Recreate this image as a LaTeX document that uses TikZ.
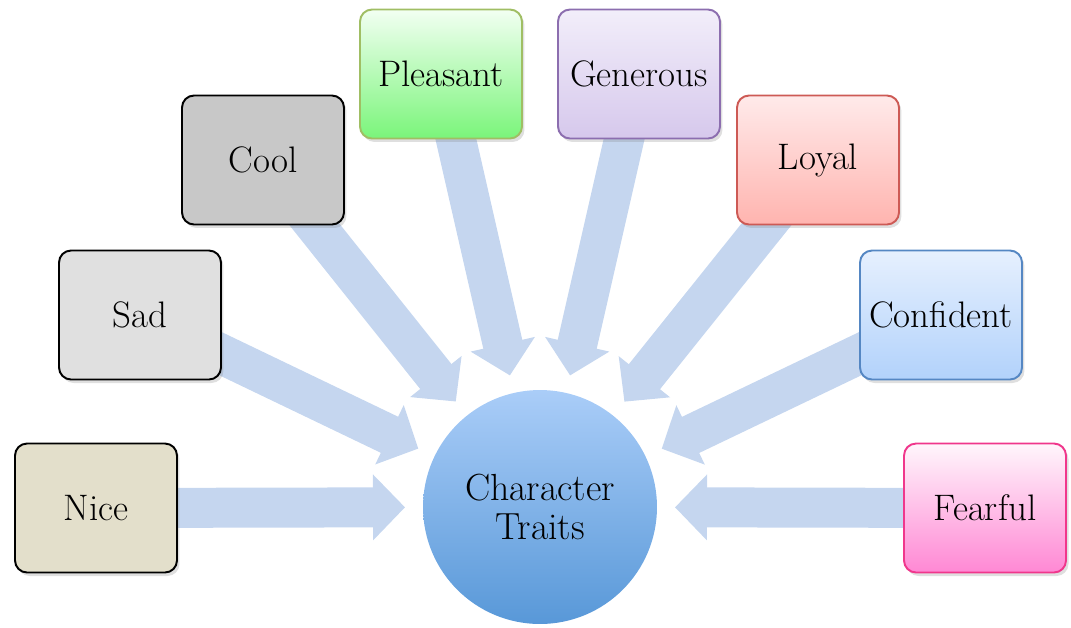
\documentclass[tikz,border=0pt]{standalone}
\usepackage{tikz}
\usetikzlibrary{arrows.meta,calc,backgrounds,shadows}

\definecolor{linkblue}{RGB}{197,214,239}
\definecolor{niceFill}{RGB}{227,223,203}
\definecolor{sadFill}{RGB}{224,224,224}
\definecolor{coolFill}{RGB}{200,200,200}
\definecolor{pleasantTop}{RGB}{242,255,242}
\definecolor{pleasantBot}{RGB}{122,245,122}
\definecolor{pleasantLine}{RGB}{160,190,100}
\definecolor{generousTop}{RGB}{242,238,250}
\definecolor{generousBot}{RGB}{214,200,236}
\definecolor{generousLine}{RGB}{140,110,175}
\definecolor{loyalTop}{RGB}{255,234,234}
\definecolor{loyalBot}{RGB}{255,180,175}
\definecolor{loyalLine}{RGB}{205,90,85}
\definecolor{confidentTop}{RGB}{230,240,254}
\definecolor{confidentBot}{RGB}{178,210,251}
\definecolor{confidentLine}{RGB}{85,135,195}
\definecolor{fearfulTop}{RGB}{255,246,252}
\definecolor{fearfulBot}{RGB}{255,136,212}
\definecolor{fearfulLine}{RGB}{240,55,140}
\definecolor{hubTop}{RGB}{170,205,248}
\definecolor{hubBot}{RGB}{88,152,216}

\begin{document}
\begin{tikzpicture}[x=0.02cm,y=-0.02cm,
    trait/.style={rectangle,rounded corners=0.24cm,draw=black,line width=1.1pt,
      minimum width=3.24cm,minimum height=2.58cm,font=\fontsize{21}{23}\selectfont,
      drop shadow={opacity=0.25,shadow xshift=0.05cm,shadow yshift=-0.07cm}},
    hub/.style={circle,minimum size=4.68cm,inner sep=0pt,align=center,
      top color=hubTop,bottom color=hubBot,font=\fontsize{21.5}{22.5}\selectfont},
    link/.style={line width=0.8cm,draw=linkblue,
      -{Triangle[width=1.28cm,length=0.64cm]}}]

    \useasboundingbox (0,0) rectangle (1071,627);

    % Centre
    \node[hub] (hub) at (540,507) {Character\\Traits};

    % Traits, left side
    \node[trait,fill=niceFill] (nice) at (96,508) {Nice};
    \node[trait,fill=sadFill]  (sad)  at (140,315) {Sad};
    \node[trait,fill=coolFill] (cool) at (263,160) {Cool};
    \node[trait,draw=pleasantLine,top color=pleasantTop,bottom color=pleasantBot]
      (pleasant) at (441,74) {Pleasant};

    % Traits, right side
    \node[trait,draw=generousLine,top color=generousTop,bottom color=generousBot]
      (generous) at (639,74) {Generous};
    \node[trait,draw=loyalLine,top color=loyalTop,bottom color=loyalBot]
      (loyal) at (818,160) {Loyal};
    \node[trait,draw=confidentLine,top color=confidentTop,bottom color=confidentBot]
      (confident) at (941,315) {Confident};
    \node[trait,draw=fearfulLine,top color=fearfulTop,bottom color=fearfulBot]
      (fearful) at (985,508) {Fearful};

    % Block arrows into the centre
    \begin{scope}[on background layer]
      \foreach \t in {nice,sad,cool,pleasant,generous,loyal,confident,fearful}
        \draw[link] (\t.center) -- ($(hub.center)!2.7cm!(\t.center)$);
    \end{scope}

  \end{tikzpicture}
\end{document}
